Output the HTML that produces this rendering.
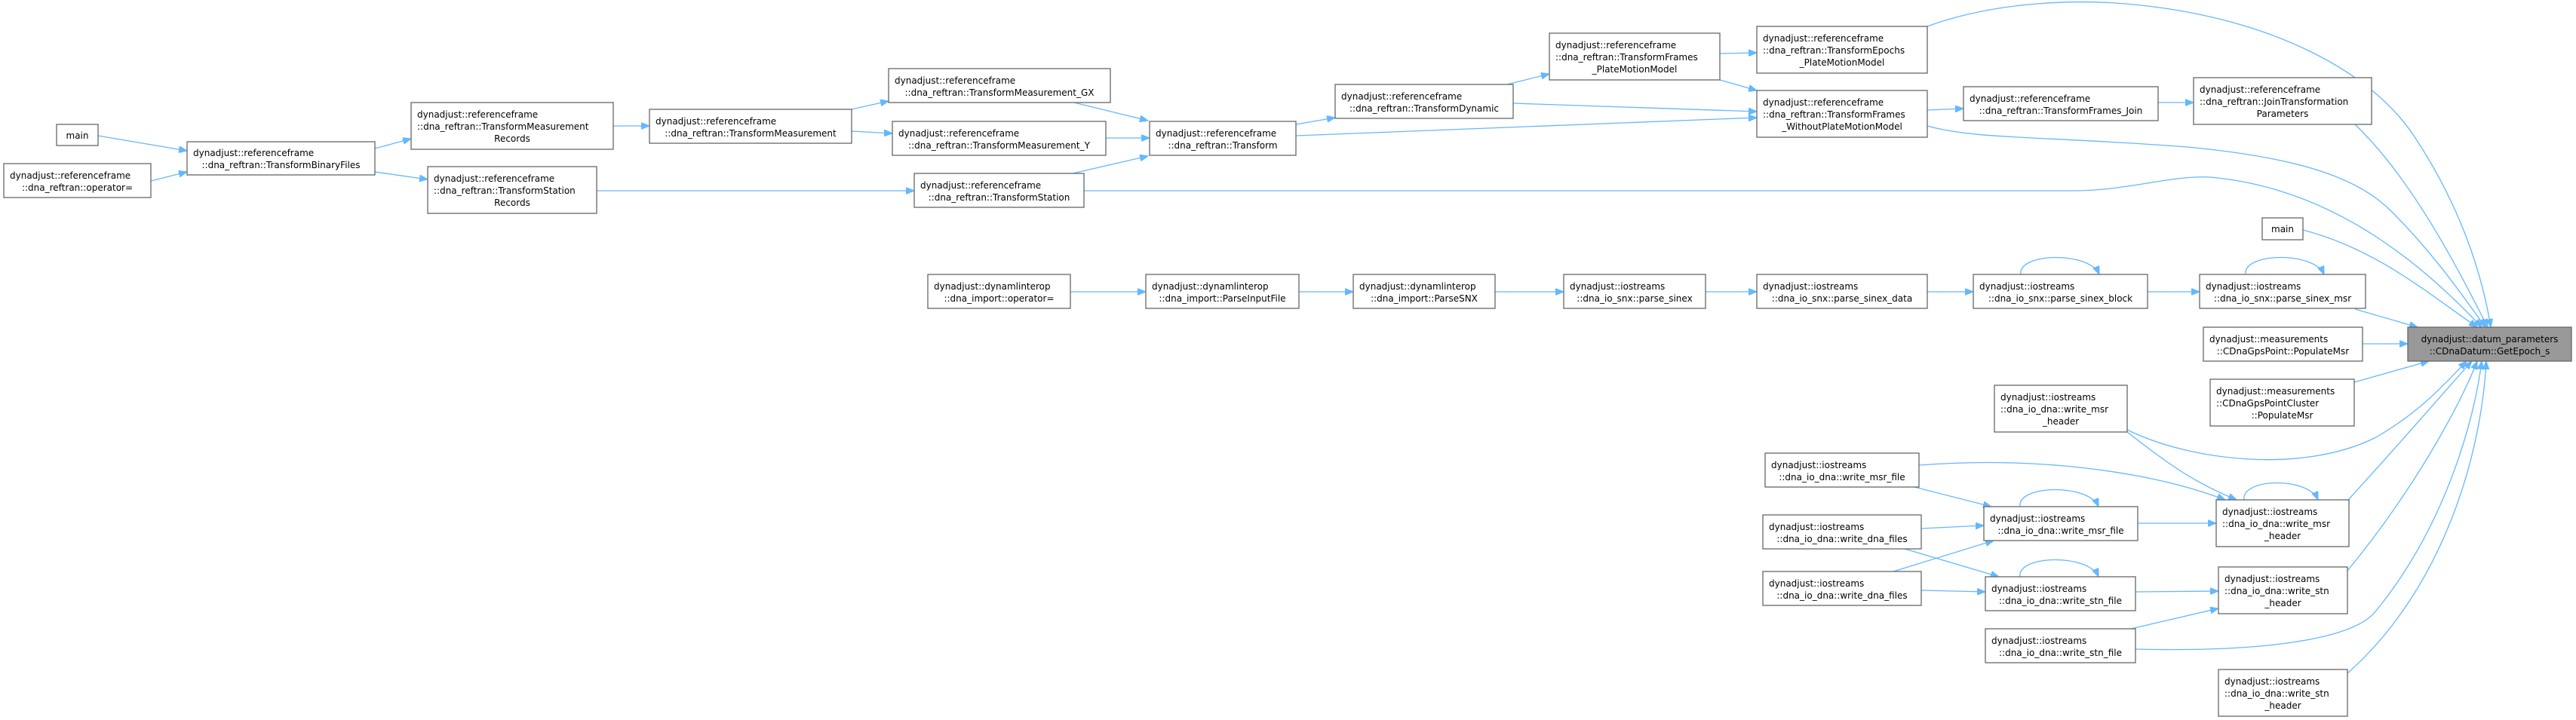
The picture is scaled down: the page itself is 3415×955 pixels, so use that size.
<!DOCTYPE html>
<html><head><meta charset="utf-8"><style>
html,body{margin:0;padding:0;background:#fff;}
svg{display:block;}
text{font-family:"DejaVu Sans","Liberation Sans",sans-serif;font-size:12px;fill:#000;}
.b{fill:#fff;stroke:#666;stroke-width:1.3;}
.g{fill:#999;stroke:#666;stroke-width:1.3;}
.e{fill:none;stroke:#63b8ff;stroke-width:1.3;}
</style></head><body>
<svg width="3415" height="955" viewBox="0 0 3415 955" xmlns="http://www.w3.org/2000/svg">
<defs>
<marker id="a" markerUnits="userSpaceOnUse" markerWidth="12" markerHeight="9" refX="11" refY="4.5" orient="auto">
<path d="M0,0 L11,4.5 L0,9 z" fill="#63b8ff" stroke="#63b8ff"/>
</marker>
</defs>

<g id="edges">
<path class="e" marker-end="url(#a)" d="M130,180 L248,200"/>
<path class="e" marker-end="url(#a)" d="M200,240 L248,228"/>
<path class="e" marker-end="url(#a)" d="M497,197 L545,184"/>
<path class="e" marker-end="url(#a)" d="M497,228 L567,238"/>
<path class="e" marker-end="url(#a)" d="M813,167 L861,167"/>
<path class="e" marker-end="url(#a)" d="M1129,145 L1178,134"/>
<path class="e" marker-end="url(#a)" d="M1129,174 L1183,177"/>
<path class="e" marker-end="url(#a)" d="M791,253 L1212,253"/>
<path class="e" marker-end="url(#a)" d="M1424,136 L1522,160"/>
<path class="e" marker-end="url(#a)" d="M1466,183 L1524,183"/>
<path class="e" marker-end="url(#a)" d="M1422,230 L1522,207"/>
<path class="e" marker-end="url(#a)" d="M1718,165 L1770,156"/>
<path class="e" marker-end="url(#a)" d="M1718,180 L2329,156"/>
<path class="e" marker-end="url(#a)" d="M2006,137 L2329,148"/>
<path class="e" marker-end="url(#a)" d="M1998,112 L2054,98"/>
<path class="e" marker-end="url(#a)" d="M2280,71 L2329,70"/>
<path class="e" marker-end="url(#a)" d="M2280,106 L2329,120"/>
<path class="e" marker-end="url(#a)" d="M2555,146 L2603,144"/>
<path class="e" marker-end="url(#a)" d="M2861,136 L2908,136"/>
<!-- to GetEpoch from above -->
<path class="e" marker-end="url(#a)" d="M2555,35 C2650,0 2760,0 2817,5 C3000,20 3140,90 3200,180 C3260,270 3290,360 3302,434"/>
<path class="e" marker-end="url(#a)" d="M2555,167 C2620,185 2700,180 2900,195 C3060,210 3130,240 3170,280 C3230,340 3270,400 3295,434"/>
<path class="e" marker-end="url(#a)" d="M3122,165 C3200,240 3260,360 3298,434"/>
<path class="e" marker-end="url(#a)" d="M1437,253 L2750,253 C2820,253 2880,232 2930,235 C3100,250 3220,360 3290,434"/>
<path class="e" marker-end="url(#a)" d="M3053,305 C3150,330 3220,390 3284,434"/>
<path class="e" marker-end="url(#a)" d="M3122,410 L3205,434"/>
<path class="e" marker-end="url(#a)" d="M3132,456 L3192,456"/>
<path class="e" marker-end="url(#a)" d="M3121,507 L3220,479"/>
<path class="e" marker-end="url(#a)" d="M2820,570 C2900,610 3050,630 3150,580 C3210,545 3240,510 3270,479"/>
<path class="e" marker-end="url(#a)" d="M3113,663 C3180,590 3240,520 3277,479"/>
<path class="e" marker-end="url(#a)" d="M3112,757 C3200,650 3260,540 3284,479"/>
<path class="e" marker-end="url(#a)" d="M2831,861 C2990,865 3120,850 3150,810 C3240,700 3280,560 3290,479"/>
<path class="e" marker-end="url(#a)" d="M3112,893 C3240,780 3290,600 3296,479"/>
<!-- lower cluster -->
<path class="e" marker-end="url(#a)" d="M2820,573 C2880,620 2910,640 2965,663"/>
<path class="e" marker-end="url(#a)" d="M2544,617 C2700,605 2850,625 2950,663"/>
<path class="e" marker-end="url(#a)" d="M2538,646 L2640,672"/>
<path class="e" marker-end="url(#a)" d="M2547,701 L2630,697"/>
<path class="e" marker-end="url(#a)" d="M2525,728 L2650,765"/>
<path class="e" marker-end="url(#a)" d="M2510,758 L2643,717"/>
<path class="e" marker-end="url(#a)" d="M2547,783 L2632,785"/>
<path class="e" marker-end="url(#a)" d="M2834,694 L2938,694"/>
<path class="e" marker-end="url(#a)" d="M2831,785 L2941,784"/>
<path class="e" marker-end="url(#a)" d="M2825,834 L2941,807"/>
<!-- interop chain -->
<path class="e" marker-end="url(#a)" d="M1419,387 L1519,387"/>
<path class="e" marker-end="url(#a)" d="M1722,387 L1794,387"/>
<path class="e" marker-end="url(#a)" d="M1982,387 L2073,387"/>
<path class="e" marker-end="url(#a)" d="M2261,387 L2329,387"/>
<path class="e" marker-end="url(#a)" d="M2555,387 L2616,387"/>
<path class="e" marker-end="url(#a)" d="M2847,387 L2916,387"/>
<!-- self loops -->
<path class="e" marker-end="url(#a)" d="M2679,364 C2675,335 2770,333 2783,364"/>
<path class="e" marker-end="url(#a)" d="M2977,364 C2973,335 3068,333 3081,364"/>
<path class="e" marker-end="url(#a)" d="M2678,672 C2674,643 2769,641 2782,672"/>
<path class="e" marker-end="url(#a)" d="M2678,765 C2674,736 2769,734 2782,765"/>
<path class="e" marker-end="url(#a)" d="M2975,663 C2971,634 3060,632 3073,663"/>
</g>

<g id="nodes">
<rect class="b" x="75" y="165" width="55" height="28"/><text x="102.5" y="184" text-anchor="middle">main</text>
<rect class="b" x="5" y="217" width="195" height="45"/><text x="13" y="237">dynadjust::referenceframe</text><text x="102.5" y="253" text-anchor="middle">::dna_reftran::operator=</text>
<rect class="b" x="248" y="188" width="249" height="44"/><text x="256" y="207">dynadjust::referenceframe</text><text x="372.5" y="223" text-anchor="middle">::dna_reftran::TransformBinaryFiles</text>
<rect class="b" x="545" y="136" width="268" height="62"/><text x="553" y="156">dynadjust::referenceframe</text><text x="553" y="172">::dna_reftran::TransformMeasurement</text><text x="679" y="188" text-anchor="middle">Records</text>
<rect class="b" x="861" y="145" width="268" height="45"/><text x="869" y="165">dynadjust::referenceframe</text><text x="995" y="181" text-anchor="middle">::dna_reftran::TransformMeasurement</text>
<rect class="b" x="567" y="221" width="224" height="62"/><text x="575" y="241">dynadjust::referenceframe</text><text x="575" y="257">::dna_reftran::TransformStation</text><text x="679" y="273" text-anchor="middle">Records</text>
<rect class="b" x="1178" y="91" width="294" height="45"/><text x="1186" y="111">dynadjust::referenceframe</text><text x="1325" y="127" text-anchor="middle">::dna_reftran::TransformMeasurement_GX</text>
<rect class="b" x="1183" y="161" width="283" height="45"/><text x="1191" y="181">dynadjust::referenceframe</text><text x="1324.5" y="197" text-anchor="middle">::dna_reftran::TransformMeasurement_Y</text>
<rect class="b" x="1212" y="230" width="225" height="45"/><text x="1220" y="250">dynadjust::referenceframe</text><text x="1324.5" y="266" text-anchor="middle">::dna_reftran::TransformStation</text>
<rect class="b" x="1524" y="161" width="194" height="45"/><text x="1532" y="181">dynadjust::referenceframe</text><text x="1621" y="197" text-anchor="middle">::dna_reftran::Transform</text>
<rect class="b" x="1770" y="112" width="236" height="45"/><text x="1778" y="132">dynadjust::referenceframe</text><text x="1888" y="148" text-anchor="middle">::dna_reftran::TransformDynamic</text>
<rect class="b" x="2054" y="44" width="226" height="62"/><text x="2062" y="64">dynadjust::referenceframe</text><text x="2062" y="80">::dna_reftran::TransformFrames</text><text x="2167" y="96" text-anchor="middle">_PlateMotionModel</text>
<rect class="b" x="2329" y="35" width="226" height="62"/><text x="2337" y="55">dynadjust::referenceframe</text><text x="2337" y="71">::dna_reftran::TransformEpochs</text><text x="2442" y="87" text-anchor="middle">_PlateMotionModel</text>
<rect class="b" x="2329" y="120" width="226" height="62"/><text x="2337" y="140">dynadjust::referenceframe</text><text x="2337" y="156">::dna_reftran::TransformFrames</text><text x="2442" y="172" text-anchor="middle">_WithoutPlateMotionModel</text>
<rect class="b" x="2603" y="115" width="258" height="45"/><text x="2611" y="135">dynadjust::referenceframe</text><text x="2732" y="151" text-anchor="middle">::dna_reftran::TransformFrames_Join</text>
<rect class="b" x="2908" y="103" width="236" height="62"/><text x="2916" y="123">dynadjust::referenceframe</text><text x="2916" y="139">::dna_reftran::JoinTransformation</text><text x="3026" y="155" text-anchor="middle">Parameters</text>
<rect class="b" x="2999" y="289" width="54" height="29"/><text x="3026" y="308" text-anchor="middle">main</text>
<rect class="b" x="1230" y="364" width="189" height="45"/><text x="1238" y="384">dynadjust::dynamlinterop</text><text x="1324.5" y="400" text-anchor="middle">::dna_import::operator=</text>
<rect class="b" x="1519" y="364" width="203" height="45"/><text x="1527" y="384">dynadjust::dynamlinterop</text><text x="1620.5" y="400" text-anchor="middle">::dna_import::ParseInputFile</text>
<rect class="b" x="1794" y="364" width="188" height="45"/><text x="1802" y="384">dynadjust::dynamlinterop</text><text x="1888" y="400" text-anchor="middle">::dna_import::ParseSNX</text>
<rect class="b" x="2073" y="364" width="188" height="45"/><text x="2081" y="384">dynadjust::iostreams</text><text x="2167" y="400" text-anchor="middle">::dna_io_snx::parse_sinex</text>
<rect class="b" x="2329" y="364" width="226" height="45"/><text x="2337" y="384">dynadjust::iostreams</text><text x="2442" y="400" text-anchor="middle">::dna_io_snx::parse_sinex_data</text>
<rect class="b" x="2616" y="364" width="231" height="45"/><text x="2624" y="384">dynadjust::iostreams</text><text x="2731.5" y="400" text-anchor="middle">::dna_io_snx::parse_sinex_block</text>
<rect class="b" x="2916" y="364" width="220" height="45"/><text x="2924" y="384">dynadjust::iostreams</text><text x="3026" y="400" text-anchor="middle">::dna_io_snx::parse_sinex_msr</text>
<rect class="b" x="2921" y="434" width="211" height="45"/><text x="2929" y="454">dynadjust::measurements</text><text x="3026.5" y="470" text-anchor="middle">::CDnaGpsPoint::PopulateMsr</text>
<rect class="g" x="3192" y="434" width="217" height="45"/><text x="3300.5" y="454" text-anchor="middle">dynadjust::datum_parameters</text><text x="3300.5" y="470" text-anchor="middle">::CDnaDatum::GetEpoch_s</text>
<rect class="b" x="2930" y="503" width="191" height="62"/><text x="2938" y="523">dynadjust::measurements</text><text x="2938" y="539">::CDnaGpsPointCluster</text><text x="3025.5" y="555" text-anchor="middle">::PopulateMsr</text>
<rect class="b" x="2644" y="511" width="176" height="62"/><text x="2652" y="531">dynadjust::iostreams</text><text x="2652" y="547">::dna_io_dna::write_msr</text><text x="2732" y="563" text-anchor="middle">_header</text>
<rect class="b" x="2340" y="601" width="204" height="45"/><text x="2348" y="621">dynadjust::iostreams</text><text x="2442" y="637" text-anchor="middle">::dna_io_dna::write_msr_file</text>
<rect class="b" x="2337" y="683" width="210" height="45"/><text x="2345" y="703">dynadjust::iostreams</text><text x="2442" y="719" text-anchor="middle">::dna_io_dna::write_dna_files</text>
<rect class="b" x="2337" y="758" width="210" height="45"/><text x="2345" y="778">dynadjust::iostreams</text><text x="2442" y="794" text-anchor="middle">::dna_io_dna::write_dna_files</text>
<rect class="b" x="2630" y="672" width="204" height="45"/><text x="2638" y="692">dynadjust::iostreams</text><text x="2732" y="708" text-anchor="middle">::dna_io_dna::write_msr_file</text>
<rect class="b" x="2632" y="765" width="199" height="45"/><text x="2640" y="785">dynadjust::iostreams</text><text x="2731.5" y="801" text-anchor="middle">::dna_io_dna::write_stn_file</text>
<rect class="b" x="2632" y="834" width="199" height="45"/><text x="2640" y="854">dynadjust::iostreams</text><text x="2731.5" y="870" text-anchor="middle">::dna_io_dna::write_stn_file</text>
<rect class="b" x="2938" y="663" width="176" height="62"/><text x="2946" y="683">dynadjust::iostreams</text><text x="2946" y="699">::dna_io_dna::write_msr</text><text x="3026" y="715" text-anchor="middle">_header</text>
<rect class="b" x="2941" y="752" width="171" height="62"/><text x="2949" y="772">dynadjust::iostreams</text><text x="2949" y="788">::dna_io_dna::write_stn</text><text x="3026.5" y="804" text-anchor="middle">_header</text>
<rect class="b" x="2941" y="888" width="171" height="62"/><text x="2949" y="908">dynadjust::iostreams</text><text x="2949" y="924">::dna_io_dna::write_stn</text><text x="3026.5" y="940" text-anchor="middle">_header</text>
</g>
</svg>
</body></html>
